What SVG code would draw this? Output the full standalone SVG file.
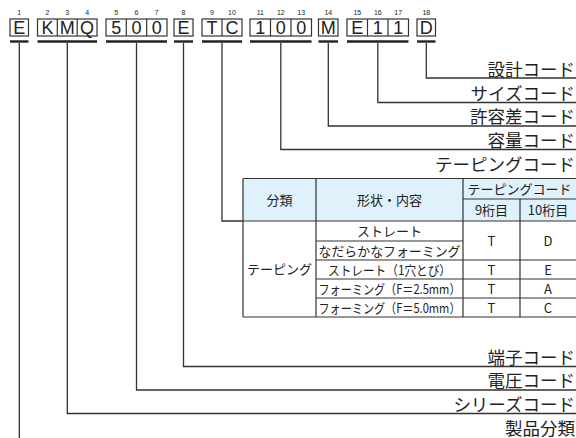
<svg xmlns="http://www.w3.org/2000/svg" width="576" height="438" viewBox="0 0 576 438">
<style>
.box{fill:#fff;stroke:#333;stroke-width:1.2}
.ul{stroke:#222;stroke-width:2.4;fill:none}
.ch{font-family:"Liberation Sans",Arial,sans-serif;font-size:18px;fill:#222;text-anchor:middle}
.num{font-family:"Liberation Sans",Arial,sans-serif;font-size:7px;fill:#222;text-anchor:middle}
.lbl{font-family:"Noto Sans CJK JP",sans-serif;font-size:17.5px;fill:#222;text-anchor:end}
.con{stroke:#333;stroke-width:1.3;fill:none}
.tl{stroke:#333;stroke-width:1.2;fill:none}
.tt{font-family:"Noto Sans CJK JP",sans-serif;font-size:13px;fill:#222;text-anchor:middle}
.hd{fill:#dff1fa}
</style>
<rect width="576" height="438" fill="#fff"/>

<g id="code-1">
<rect class="box" x="10" y="19" width="18.5" height="17"/>
<text class="ch" x="19.3" y="34">E</text>
<text class="num" x="19.3" y="15.3">1</text>
<line class="ul" x1="10" y1="41.5" x2="28.5" y2="41.5"/>
</g>
<g id="code-2-4">
<rect class="box" x="37.5" y="19" width="59.5" height="17"/>
<line class="tl" x1="57.3" y1="19" x2="57.3" y2="36"/>
<line class="tl" x1="77.2" y1="19" x2="77.2" y2="36"/>
<text class="ch" x="47.4" y="34">K</text>
<text class="ch" x="67.3" y="34">M</text>
<text class="ch" x="87.1" y="34">Q</text>
<text class="num" x="47.4" y="15.3">2</text>
<text class="num" x="67.3" y="15.3">3</text>
<text class="num" x="87.1" y="15.3">4</text>
<line class="ul" x1="37.5" y1="41.5" x2="97" y2="41.5"/>
</g>
<g id="code-5-7">
<rect class="box" x="106" y="19" width="61" height="17"/>
<line class="tl" x1="126.3" y1="19" x2="126.3" y2="36"/>
<line class="tl" x1="146.7" y1="19" x2="146.7" y2="36"/>
<text class="ch" x="116.2" y="34">5</text>
<text class="ch" x="136.5" y="34">0</text>
<text class="ch" x="156.8" y="34">0</text>
<text class="num" x="116.2" y="15.3">5</text>
<text class="num" x="136.5" y="15.3">6</text>
<text class="num" x="156.8" y="15.3">7</text>
<line class="ul" x1="106" y1="41.5" x2="167" y2="41.5"/>
</g>
<g id="code-8">
<rect class="box" x="174" y="19" width="19" height="17"/>
<text class="ch" x="183.5" y="34">E</text>
<text class="num" x="183.5" y="15.3">8</text>
<line class="ul" x1="174" y1="41.5" x2="193" y2="41.5"/>
</g>
<g id="code-9-10">
<rect class="box" x="202" y="19" width="40" height="17"/>
<line class="tl" x1="222" y1="19" x2="222" y2="36"/>
<text class="ch" x="212" y="34">T</text>
<text class="ch" x="232" y="34">C</text>
<text class="num" x="212" y="15.3">9</text>
<text class="num" x="232" y="15.3">10</text>
<line class="ul" x1="202" y1="41.5" x2="242" y2="41.5"/>
</g>
<g id="code-11-13">
<rect class="box" x="250" y="19" width="61.5" height="17"/>
<line class="tl" x1="270.5" y1="19" x2="270.5" y2="36"/>
<line class="tl" x1="291" y1="19" x2="291" y2="36"/>
<text class="ch" x="260.3" y="34">1</text>
<text class="ch" x="280.8" y="34">0</text>
<text class="ch" x="301.2" y="34">0</text>
<text class="num" x="260.3" y="15.3">11</text>
<text class="num" x="280.8" y="15.3">12</text>
<text class="num" x="301.2" y="15.3">13</text>
<line class="ul" x1="250" y1="41.5" x2="311.5" y2="41.5"/>
</g>
<g id="code-14">
<rect class="box" x="318.5" y="19" width="19.5" height="17"/>
<text class="ch" x="328.3" y="34">M</text>
<text class="num" x="328.3" y="15.3">14</text>
<line class="ul" x1="318.5" y1="41.5" x2="338" y2="41.5"/>
</g>
<g id="code-15-17">
<rect class="box" x="347" y="19" width="61.5" height="17"/>
<line class="tl" x1="367.5" y1="19" x2="367.5" y2="36"/>
<line class="tl" x1="388" y1="19" x2="388" y2="36"/>
<text class="ch" x="357.3" y="34">E</text>
<text class="ch" x="377.8" y="34">1</text>
<text class="ch" x="398.2" y="34">1</text>
<text class="num" x="357.3" y="15.3">15</text>
<text class="num" x="377.8" y="15.3">16</text>
<text class="num" x="398.2" y="15.3">17</text>
<line class="ul" x1="347" y1="41.5" x2="408.5" y2="41.5"/>
</g>
<g id="code-18">
<rect class="box" x="417" y="19" width="18.5" height="17"/>
<text class="ch" x="426.3" y="34">D</text>
<text class="num" x="426.3" y="15.3">18</text>
<line class="ul" x1="417" y1="41.5" x2="435.5" y2="41.5"/>
</g>

<g id="connectors">
<path class="con" d="M426.3 43V78H576"/>
<path class="con" d="M377.8 43V102.5H576"/>
<path class="con" d="M328.3 43V126H576"/>
<path class="con" d="M280.8 43V149.5H576"/>
<path class="con" d="M222 43V221H243"/>
<path class="con" d="M183.5 43V366.5H576"/>
<path class="con" d="M136.5 43V390H576"/>
<path class="con" d="M67.3 43V413.5H576"/>
<path class="con" d="M19.3 43V438"/>
</g>

<g id="label-design"><text class="lbl" x="575" y="75.5">設計コード</text></g>
<g id="label-size"><text class="lbl" x="575" y="99.5">サイズコード</text></g>
<g id="label-tolerance"><text class="lbl" x="575" y="123">許容差コード</text></g>
<g id="label-capacity"><text class="lbl" x="575" y="146.5">容量コード</text></g>
<g id="label-taping"><text class="lbl" x="575" y="171">テーピングコード</text></g>
<g id="label-terminal"><text class="lbl" x="575" y="363.5">端子コード</text></g>
<g id="label-voltage"><text class="lbl" x="575" y="387">電圧コード</text></g>
<g id="label-series"><text class="lbl" x="575" y="410.5">シリーズコード</text></g>
<g id="label-product"><text class="lbl" x="575" y="434.5">製品分類</text></g>

<g id="taping-table">
<rect class="hd" x="243" y="178.5" width="334" height="42.5"/>
<path class="tl" d="M243 178.5H577M463 199H577M243 221H577M316 241H463M316 260H577M316 279H577M316 298H577M243 317H577M243 178.5V317M316 178.5V317M463 178.5V317M520 199V317"/>
<text class="tt" x="279.5" y="205">分類</text>
<text class="tt" x="389.5" y="205">形状・内容</text>
<text class="tt" x="519.5" y="193.7">テーピングコード</text>
<text class="tt" x="491.5" y="215">9桁目</text>
<text class="tt" x="548" y="215">10桁目</text>
<text class="tt" x="279.5" y="274">テーピング</text>
<text class="tt" x="389.5" y="236">ストレート</text>
<text class="tt" x="389.5" y="255.5" textLength="142" lengthAdjust="spacingAndGlyphs">なだらかなフォーミング</text>
<text class="tt" x="389.5" y="274.5" textLength="123" lengthAdjust="spacingAndGlyphs">ストレート（1穴とび）</text>
<text class="tt" x="389.5" y="293.5" textLength="142" lengthAdjust="spacingAndGlyphs">フォーミング（F＝2.5mm）</text>
<text class="tt" x="389.5" y="312.5" textLength="142" lengthAdjust="spacingAndGlyphs">フォーミング（F＝5.0mm）</text>
<text class="tt" x="491.5" y="245.5">T</text>
<text class="tt" x="548" y="245.5">D</text>
<text class="tt" x="491.5" y="274.5">T</text>
<text class="tt" x="548" y="274.5">E</text>
<text class="tt" x="491.5" y="293.5">T</text>
<text class="tt" x="548" y="293.5">A</text>
<text class="tt" x="491.5" y="312.5">T</text>
<text class="tt" x="548" y="312.5">C</text>
</g>
</svg>
